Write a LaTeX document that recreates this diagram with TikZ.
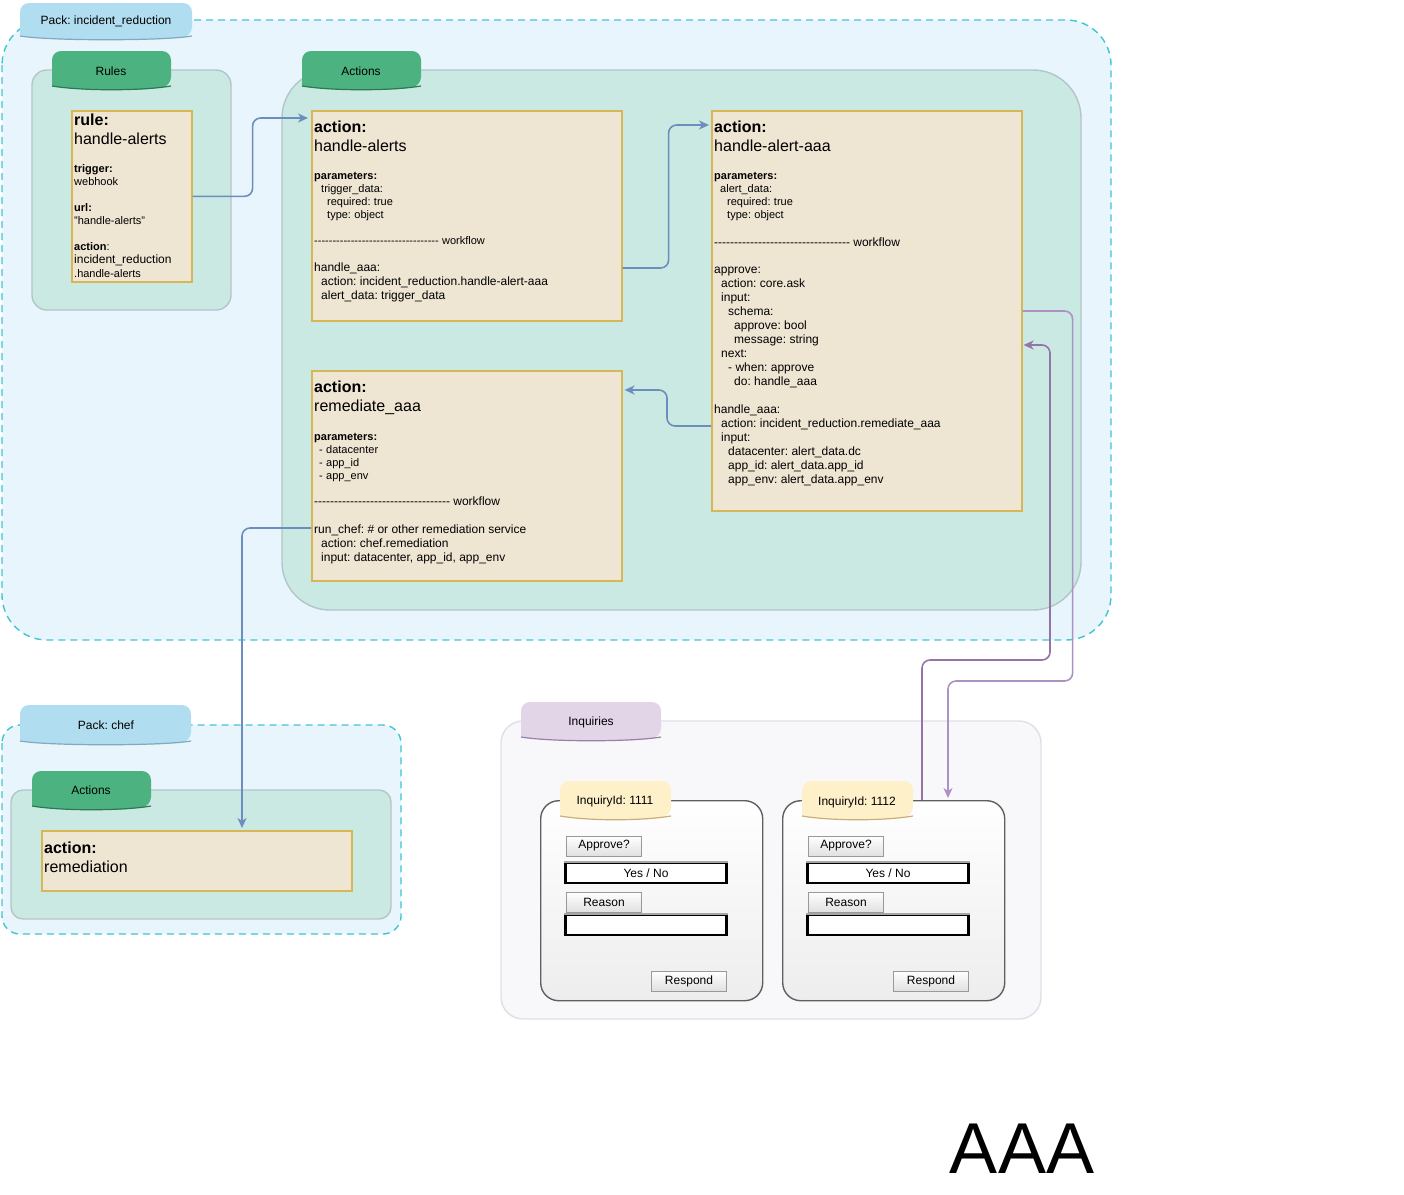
\documentclass[tikz,border=0pt]{standalone}
\usepackage{fontspec}
\setmainfont{Liberation Sans}
\usepackage{tikz}
\usetikzlibrary{arrows.meta, positioning, calc}
\definecolor{packfill}{RGB}{233,245,252}
\definecolor{packline}{RGB}{64,198,208}
\definecolor{packtab}{RGB}{177,221,240}
\definecolor{packedge}{RGB}{130,170,190}
\definecolor{groupfill}{RGB}{203,233,227}
\definecolor{groupline}{RGB}{178,198,202}
\definecolor{greentab}{RGB}{76,179,128}
\definecolor{greenedge}{RGB}{44,120,86}
\definecolor{codefill}{RGB}{239,229,211}
\definecolor{codeline}{RGB}{214,182,86}
\definecolor{flowblue}{RGB}{108,142,191}
\definecolor{flowpurple}{RGB}{150,115,166}
\definecolor{flowlilac}{RGB}{172,145,196}
\definecolor{inqfill}{RGB}{248,247,250}
\definecolor{inqline}{RGB}{227,221,233}
\definecolor{inqtab}{RGB}{225,213,231}
\definecolor{inqedge}{RGB}{150,130,165}
\definecolor{idtab}{RGB}{254,240,200}
\definecolor{idedge}{RGB}{200,175,120}
\definecolor{cardline}{RGB}{95,95,95}

\frenchspacing
\newcommand{\hd}{\fontsize{16}{19}\selectfont}
\newcommand{\sm}{\fontsize{11}{13}\selectfont}
\newcommand{\bd}{\fontsize{12}{14}\selectfont}
\newcommand{\ind}[1]{\hspace*{#1pt}}
\ExplSyntaxOn
\newcommand{\dashline}[1]{\prg_replicate:nn{#1}{-\kern0pt\relax}}
\ExplSyntaxOff
% tab on top of a container: x1, y1, x2, y2, fill, bottom edge
\newcommand{\drawtab}[6]{%
  \fill[#5, rounded corners=9pt] (#1,{#4-4}) -- (#1,#2) -- (#3,#2) -- (#3,{#4-4})
    .. controls ({#3-30},{#4+1}) and ({#1+30},{#4+1}) .. (#1,{#4-4});
  \draw[#6, line width=1.2pt] (#3,{#4-4})
    .. controls ({#3-30},{#4+1}) and ({#1+30},{#4+1}) .. (#1,{#4-4});
}

\begin{document}
\begin{tikzpicture}[x=1pt, y=-1pt,
    packbox/.style={draw=packline, fill=packfill, line width=1.4pt, dash pattern=on 7pt off 5pt},
    groupbox/.style={draw=groupline, fill=groupfill, line width=1.4pt},
    inqbox/.style={draw=inqline, fill=inqfill, line width=1.4pt},
    codebox/.style={draw=codeline, fill=codefill, line width=1.6pt, anchor=north west, inner sep=0pt},
    codetext/.style={anchor=north west, inner sep=0pt, text width=300pt, align=left,
        execute at begin node={\setlength{\parindent}{0pt}\setlength{\parskip}{0pt}}},
    tablabel/.style={font=\fontsize{12}{14}\selectfont, inner sep=0pt},
    card/.style={draw=cardline, line width=1.4pt, rounded corners=18pt, top color=white,
        bottom color=black!7, anchor=north west, minimum width=222, minimum height=200, inner sep=0pt},
    button/.style={draw=black!40, line width=0.8pt, top color=white, bottom color=black!12,
        minimum width=75, minimum height=20, inner sep=0pt, font=\fontsize{12}{14}\selectfont},
    field/.style={draw=black, line width=2.6pt, fill=white, minimum width=161, minimum height=20,
        inner sep=0pt, font=\fontsize{12}{14}\selectfont},
    fieldtop/.style={draw=black!35, line width=2.2pt},
    bluewire/.style={draw=flowblue, line width=1.6pt, rounded corners=8pt, -{Stealth[length=10pt, width=9pt, inset=3pt]}},
    purplewire/.style={draw=flowpurple, line width=1.6pt, rounded corners=8pt, -{Stealth[length=10pt, width=9pt, inset=3pt]}},
    lilacwire/.style={draw=flowlilac, line width=1.6pt, rounded corners=8pt, -{Stealth[length=10pt, width=9pt, inset=3pt]}}]
    \useasboundingbox (0,0) rectangle (1404,1194);

    % Pack: incident_reduction
    \draw[packbox, rounded corners=45pt] (2,20) rectangle (1111,640);
    \drawtab{20}{3}{192}{40}{packtab}{packedge}
    \node[tablabel] (packir) at (106,21) {Pack: incident\_reduction};

    % Rules
    \draw[groupbox, rounded corners=15pt] (32,70) rectangle (231,310);
    \drawtab{52}{51}{171}{90}{greentab}{greenedge}
    \node[tablabel] (rulestab) at (111,71) {Rules};
    \node[codebox, minimum width=120, minimum height=171] (rule) at (71,110) {};
    \node[codetext] (ruletxt) at (74,113.5) {%
        {\hd\textbf{rule:}\par handle-alerts\par}
        {\sm\vspace{15pt}\textbf{trigger:}\par webhook\par
        \vspace{13pt}\textbf{url:}\par "handle-alerts"\par
        \vspace{13pt}\textbf{action}:\par}
        {\fontsize{12}{13}\selectfont incident\_reduction\par}
        {\fontsize{11}{14}\selectfont .handle-alerts\par}};

    % Actions
    \draw[groupbox, rounded corners=48pt] (282,70) rectangle (1081,610);
    \drawtab{302}{51}{421}{90}{greentab}{greenedge}
    \node[tablabel] (actionstab) at (361,71) {Actions};

    \node[codebox, minimum width=310, minimum height=210] (ha) at (311,110) {};
    \node[codetext] (hatxt) at (314,120.5) {%
        {\hd\textbf{action:}\par handle-alerts\par}
        {\sm\vspace{15.5pt}\textbf{parameters:}\par
        \ind{7}trigger\_data:\par
        \ind{13}required: true\par
        \ind{13}type: object\par
        \vspace{13pt}\dashline{34} workflow\par}
        {\bd\vspace{13pt}handle\_aaa:\par
        \ind{7}action: incident\_reduction.handle-alert-aaa\par
        \ind{7}alert\_data: trigger\_data\par}};

    \node[codebox, minimum width=310, minimum height=400] (haa) at (711,110) {};
    \node[codetext] (haatxt) at (714,120.5) {%
        {\hd\textbf{action:}\par handle-alert-aaa\par}
        {\sm\vspace{15.5pt}\textbf{parameters:}\par
        \ind{6}alert\_data:\par
        \ind{13}required: true\par
        \ind{13}type: object\par}
        {\bd\vspace{13.5pt}\dashline{34} workflow\par
        \vspace{13pt}approve:\par
        \ind{7}action: core.ask\par
        \ind{7}input:\par
        \ind{14}schema:\par
        \ind{20}approve: bool\par
        \ind{20}message: string\par
        \ind{7}next:\par
        \ind{14}- when: approve\par
        \ind{20}do: handle\_aaa\par
        \vspace{14pt}handle\_aaa:\par
        \ind{7}action: incident\_reduction.remediate\_aaa\par
        \ind{7}input:\par
        \ind{14}datacenter: alert\_data.dc\par
        \ind{14}app\_id: alert\_data.app\_id\par
        \ind{14}app\_env: alert\_data.app\_env\par}};

    \node[codebox, minimum width=310, minimum height=210] (rem) at (311,370) {};
    \node[codetext] (remtxt) at (314,381) {%
        {\hd\textbf{action:}\par remediate\_aaa\par}
        {\sm\vspace{15.5pt}\textbf{parameters:}\par
        \ind{5}- datacenter\par
        \ind{5}- app\_id\par
        \ind{5}- app\_env\par}
        {\bd\vspace{12.5pt}\dashline{34} workflow\par
        \vspace{14pt}run\_chef: \# or other remediation service\par
        \ind{7}action: chef.remediation\par
        \ind{7}input: datacenter, app\_id, app\_env\par}};

    % Pack: chef
    \draw[packbox, rounded corners=18pt] (2,725) rectangle (401,934);
    \drawtab{20}{705}{191}{745}{packtab}{packedge}
    \node[tablabel] (packchef) at (106,725) {Pack: chef};
    \draw[groupbox, rounded corners=12pt] (11,790) rectangle (391,919);
    \drawtab{32}{771}{151}{810}{greentab}{greenedge}
    \node[tablabel] (chefactions) at (91,790) {Actions};
    \node[codebox, minimum width=310, minimum height=60] (remchef) at (41,830) {};
    \node[codetext] (remcheftxt) at (44,841.5) {{\hd\textbf{action:}\par remediation\par}};

    % Inquiries
    \draw[inqbox, rounded corners=22pt] (501,721) rectangle (1041,1019);
    \drawtab{521}{702}{661}{741}{inqtab}{inqedge}
    \node[tablabel] (inqtitle) at (591,722) {Inquiries};

    \node[card] (card1) at (540,800) {};
    \drawtab{560}{781}{671}{820}{idtab}{idedge}
    \node[tablabel] (id1) at (615,801) {InquiryId: 1111};
    \node[button] (approve1) at ($(card1.north west)+(64,46)$) {Approve?};
    \node[field] (yesno1) at ($(card1.north west)+(106,73)$) {Yes / No};
    \draw[fieldtop] (yesno1.north west) -- (yesno1.north east);
    \node[button] (reason1) at ($(card1.north west)+(64,102)$) {Reason};
    \node[field] (text1) at ($(card1.north west)+(106,125)$) {};
    \draw[fieldtop] (text1.north west) -- (text1.north east);
    \node[button] (respond1) at ($(card1.north west)+(149,181)$) {Respond};

    \node[card] (card2) at (782,800) {};
    \drawtab{802}{781}{913}{820}{idtab}{idedge}
    \node[tablabel] (id2) at (857,802) {InquiryId: 1112};
    \node[button] (approve2) at ($(card2.north west)+(64,46)$) {Approve?};
    \node[field] (yesno2) at ($(card2.north west)+(106,73)$) {Yes / No};
    \draw[fieldtop] (yesno2.north west) -- (yesno2.north east);
    \node[button] (reason2) at ($(card2.north west)+(64,102)$) {Reason};
    \node[field] (text2) at ($(card2.north west)+(106,125)$) {};
    \draw[fieldtop] (text2.north west) -- (text2.north east);
    \node[button] (respond2) at ($(card2.north west)+(149,181)$) {Respond};

    % Connectors
    \draw[bluewire] (rule.east) -- ++(60,0) |- ($(ha.north west)+(-3,8)$);
    \draw[bluewire] ($(ha.north east)+(0,158)$) -- ++(46,0) |- ($(haa.north west)+(-2,15)$);
    \draw[bluewire] ($(haa.north west)+(0,316)$) -- ++(-44,0) |- ($(rem.north east)+(2,20)$);
    \draw[bluewire] ($(rem.north west)+(0,158)$) -| ($(remchef.north west)+(201,-2)$);
    \draw[lilacwire] ($(haa.north east)+(0,201)$) -| ++(50,370) -| ($(card2.north west)+(166,-2)$);
    \draw[purplewire] ($(card2.north west)+(140,0)$) |- ++(128,-140) |- ($(haa.north east)+(1,235)$);

    \node[font=\fontsize{72}{80}\selectfont, inner sep=0pt] (aaa) at (1022,1149) {AAA};
\end{tikzpicture}
\end{document}
